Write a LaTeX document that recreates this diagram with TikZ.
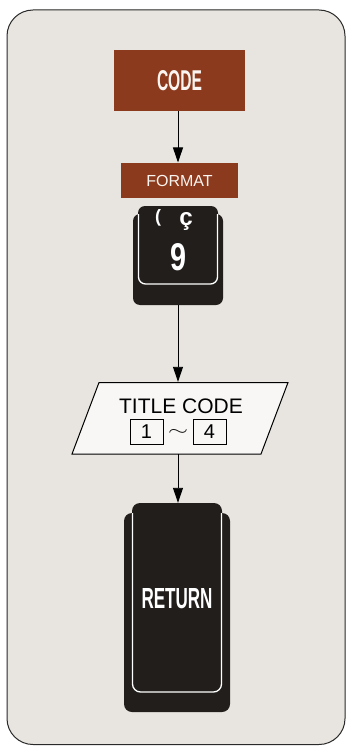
\documentclass[tikz,border=0pt]{standalone}
\usepackage{fontspec}
\setmainfont{Liberation Sans}
\usetikzlibrary{arrows.meta}
\definecolor{bgc}{HTML}{E8E5E0}
\definecolor{brownc}{HTML}{8C3A1E}
\definecolor{keyc}{HTML}{221E1C}
\definecolor{framec}{HTML}{2A2A2A}
\tikzset{
  brownbox/.style={fill=brownc, draw=none, inner sep=0pt, text=white!92!brown},
  flowarrow/.style={line width=0.9pt, -{Triangle[length=15pt,width=10pt]}},
  ghost/.style={draw=none, fill=none, inner sep=0pt},
  keyrim/.style={draw=white, line width=1.3pt, rounded corners=7pt},
  digitbox/.style={draw=black, line width=0.8pt, minimum width=33pt, minimum height=25pt, inner sep=0pt, font=\fontsize{20}{20}\selectfont}
}
\begin{document}
\begin{tikzpicture}[x=1pt,y=-1pt]
\useasboundingbox (0,0) rectangle (347,746);
\fill[white] (0,0) rectangle (347,746);
\draw[framec, line width=1pt, fill=bgc, rounded corners=26pt] (7,10) rectangle (345,744.5);

% CODE
\node[brownbox, minimum width=131pt, minimum height=61pt] (code) at (179.5,80.5)
  {\resizebox{45pt}{20pt}{\bfseries CODE}};
% FORMAT
\node[brownbox, minimum width=117pt, minimum height=35pt] (format) at (179.5,180.5)
  {\fontsize{16}{16}\selectfont FORMAT};

% key 9
\node[ghost, minimum width=90pt, minimum height=99pt] (key9) at (178,255.5) {};
\fill[keyc, rounded corners=7pt] (133,214) rectangle (223,305);
\fill[keyc, rounded corners=7pt] (138,206) rectangle (218,284);
\draw[keyrim] (138.5,214) -- (138.5,284) -- (217.5,284) -- (217.5,214);
\node[ghost, text=white] (paren) at (158,217.5) {\resizebox{!}{13pt}{\bfseries (}};
\node[ghost, text=white] (cced) at (186,221.5) {\resizebox{!}{13pt}{\bfseries ç}};
\node[ghost, text=white] (nine) at (178,257) {\resizebox{16pt}{27pt}{\bfseries 9}};

% TITLE CODE parallelogram
\node[ghost, minimum width=216pt, minimum height=72pt] (title) at (179,418) {};
\draw[line width=1pt, fill=white!70!bgc] (99,382.5) -- (288,382.5) -- (261,454) -- (72,454) -- cycle;
\node[ghost, font=\fontsize{21}{21}\selectfont] (titletext) at (181,406) {TITLE CODE};
\node[digitbox] (one) at (146.5,431.5) {1};
\node[digitbox] (four) at (209.5,431.5) {4};
\node[ghost] (tilde) at (178,432) {\resizebox{20pt}{6pt}{$\sim$}};

% RETURN key
\node[ghost, minimum width=106pt, minimum height=209pt] (ret) at (177,607.5) {};
\fill[keyc, rounded corners=8pt] (124,513) rectangle (230,712);
\fill[keyc, rounded corners=8pt] (132,503) rectangle (222,692);
\draw[keyrim, rounded corners=8pt] (132.5,513) -- (132.5,692) -- (221.5,692) -- (221.5,513);
\node[ghost, text=white] (rettext) at (177,599) {\resizebox{71pt}{20pt}{\bfseries RETURN}};

% connectors
\draw[flowarrow] (178,111) -- (178,162.5);
\draw[flowarrow] (key9.south) -- (key9.south |- title.north);
\draw[flowarrow] (title.south -| key9.south) -- (key9.south |- ret.north);
\end{tikzpicture}
\end{document}
